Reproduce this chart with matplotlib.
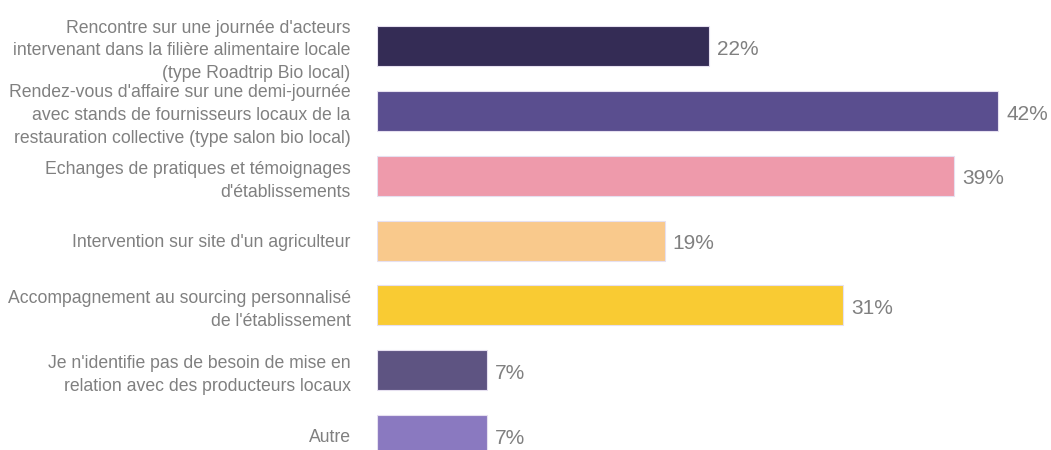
import matplotlib.pyplot as plt

#chart data
labels = [
    "Rencontre sur une journée d'acteurs\nintervenant dans la filière alimentaire locale\n(type Roadtrip Bio local)",
    "Rendez-vous d'affaire sur une demi-journée\navec stands de fournisseurs locaux de la\nrestauration collective (type salon bio local)",
    "Echanges de pratiques et témoignages\nd'établissements",
    "Intervention sur site d'un agriculteur",
    "Accompagnement au sourcing personnalisé\nde l'établissement",
    "Je n'identifie pas de besoin de mise en\nrelation avec des producteurs locaux",
    "Autre",
]
#bar lengths, labels as printed
values = [22.4, 41.9, 38.9, 19.4, 31.4, 7.4, 7.4]
value_labels = ["22%", "42%", "39%", "19%", "31%", "7%", "7%"]
colors = ["#342c55", "#5a4e8f", "#ee9aab", "#f9c98c", "#f9cb33", "#5e5482", "#8a79c0"]

text_grey = "#808080"

fig = plt.figure(figsize=(10.51, 4.5), dpi=100)
ax = fig.add_axes([377 / 1051, 0, 674 / 1051, 1])

pos = list(range(len(values)))
ax.barh(pos, values, height=0.617, color=colors, edgecolor="#e6e0f0", linewidth=0.8)

#value labels next to bars
for p, v, lab in zip(pos, values, value_labels):
    ax.text(v + 0.55, p + 0.05, lab, va="center", ha="left", color=text_grey,
            fontsize=15, family="Liberation Sans")

ax.set_xlim(0, 674 / 14.83)
ax.set_ylim(6.231, -0.7096)
ax.set_yticks(pos)
ax.set_yticklabels(labels, fontsize=12.7, color=text_grey, family="Liberation Sans", linespacing=1.45)
ax.tick_params(axis="y", length=0, pad=19)
ax.set_xticks([])
for s in ax.spines.values():
    s.set_visible(False)

fig.savefig("out.png", dpi=100)
